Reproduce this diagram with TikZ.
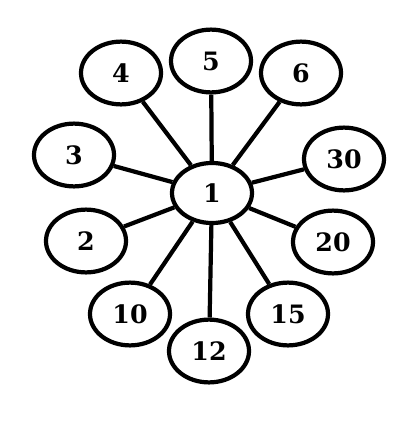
\documentclass[tikz,border=0pt]{standalone}
\usepackage{fontspec}
\setmainfont{DejaVu Serif}
\usepackage{tikz}
\usetikzlibrary{shapes.geometric,positioning}

\begin{document}
\begin{tikzpicture}[
        x=0.025cm, y=-0.025cm,
        hub/.style={ellipse, draw, line width=3pt, minimum width=2cm, minimum height=1.5cm, inner sep=0pt, font=\fontsize{18}{21}\selectfont\bfseries},
        num/.style={ellipse, draw, line width=3pt, minimum width=2cm, minimum height=1.57cm, inner sep=0pt, font=\fontsize{18}{21}\selectfont\bfseries},
        spoke/.style={line width=3pt}
    ]
    \useasboundingbox (0,0) rectangle (417,421);

    % Centre
    \node[hub] (one) at (212,193) {1};

    % Outer numbers
    \node[num] (two) at (86,241) {2};
    \node[num] (three) at (74,155) {3};
    \node[num] (four) at (121,73) {4};
    \node[num] (five) at (211,61) {5};
    \node[num] (six) at (301,73) {6};
    \node[num] (thirty) at (344,159) {30};
    \node[num] (twenty) at (333,242) {20};
    \node[num] (fifteen) at (288,314) {15};
    \node[num] (twelve) at (209,351) {12};
    \node[num] (ten) at (130,314) {10};

    % Spokes
    \draw[spoke] (one) -- (two);
    \draw[spoke] (one) -- (three);
    \draw[spoke] (one) -- (four);
    \draw[spoke] (one) -- (five);
    \draw[spoke] (one) -- (six);
    \draw[spoke] (one) -- (thirty);
    \draw[spoke] (one) -- (twenty);
    \draw[spoke] (one) -- (fifteen);
    \draw[spoke] (one) -- (twelve);
    \draw[spoke] (one) -- (ten);

\end{tikzpicture}
\end{document}
